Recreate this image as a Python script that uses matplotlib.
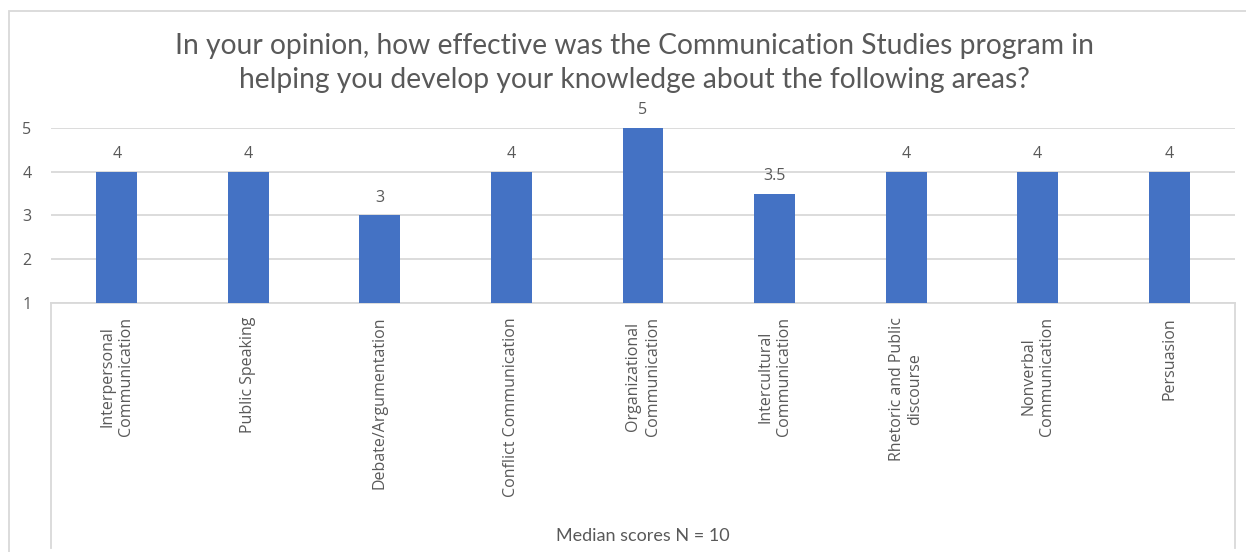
import matplotlib.pyplot as plt
from matplotlib.patches import Rectangle

# survey areas and median scores
areas = [
    "Interpersonal\nCommunication",
    "Public Speaking",
    "Debate/Argumentation",
    "Conflict Communication",
    "Organizational\nCommunication",
    "Intercultural\nCommunication",
    "Rhetoric and Public\ndiscourse",
    "Nonverbal\nCommunication",
    "Persuasion",
]
medians = [4, 4, 3, 4, 5, 3.5, 4, 4, 4]
y_ticks = [1, 2, 3, 4, 5]

title = ("In your opinion, how effective was the Communication Studies program in\n"
         "helping you develop your knowledge about the following areas?")

plt.rcParams["font.family"] = ["Open Sans", "DejaVu Sans"]
text_gray = "#595959"
line_gray = "#D9D9D9"

fig = plt.figure(figsize=(12.46, 5.52), dpi=100)
ax = fig.add_axes([51 / 1246, 1 - 303 / 552, (1235 - 51) / 1246, 175 / 552])

# chart area border
fig.add_artist(Rectangle((9 / 1246, -0.1), 2, 1.1 - 11 / 552,
                         transform=fig.transFigure, fill=False,
                         edgecolor=line_gray, linewidth=1.3))

x = range(len(areas))
bars = ax.bar(x, [m - 1 for m in medians], bottom=1, width=0.31,
              color="#4472C4", zorder=3)

for xi, m in zip(x, medians):
    label = f"{m:g}"
    ax.annotate(label, (xi, m), xytext=(0, 7), textcoords="offset points",
                ha="center", va="bottom", fontsize=11.5, color=text_gray)

ax.set_xlim(-0.5, len(areas) - 0.5)
ax.set_ylim(1, 5)
ax.set_yticks(y_ticks)
ax.yaxis.grid(True, color=line_gray, linewidth=1.3, zorder=0)
ax.tick_params(axis="y", length=0, pad=14, labelsize=11.5, labelcolor=text_gray)
ax.tick_params(axis="x", length=0, pad=10, labelsize=11.5, labelcolor=text_gray)
ax.set_xticks(list(x))
ax.set_xticklabels(areas, rotation=90, ha="center", va="top",
                   multialignment="center", linespacing=1.25)

for side in ["left", "right", "top"]:
    ax.spines[side].set_visible(False)
ax.spines["bottom"].set_color(line_gray)
ax.spines["bottom"].set_linewidth(1.3)

# side lines of the category axis box
drop = -(548 - 303) / 175
for xs in [0, 1]:
    ax.plot([xs, xs], [0, drop], transform=ax.transAxes, color=line_gray,
            linewidth=1.3, clip_on=False)

fig.text(643 / 1246, 1 - 536 / 552, "Median scores N = 10", ha="center",
         va="center", fontsize=13, color=text_gray, family="Lato")
fig.text(634 / 1246, 1 - 63 / 552, title, ha="center", va="center",
         fontsize=20.3, color=text_gray, linespacing=1.42, family="Lato")

plt.savefig("out.png", dpi=100)
plt.close()
